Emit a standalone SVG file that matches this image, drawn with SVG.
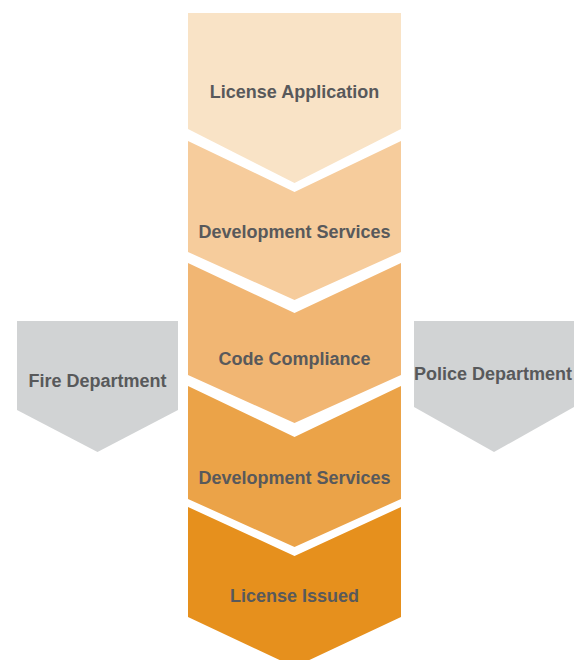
<svg xmlns="http://www.w3.org/2000/svg" width="581" height="660" viewBox="0 0 581 660">
<style>
  .lbl { font-family: "Liberation Sans", Arial, sans-serif; font-weight: bold; font-size: 18px; fill: #58595b; text-anchor: middle; }
  .s1 { fill: #f9e3c6; }
  .s2 { fill: #f6cc9c; }
  .s3 { fill: #f1b673; }
  .s4 { fill: #eba348; }
  .s5 { fill: #e6901d; }
  .gray { fill: #d1d3d4; }
</style>
<rect width="581" height="660" fill="#ffffff"/>
<g id="license-application">
  <polygon class="s1" points="188,13 401,13 401,129 294.5,183 188,129"/>
  <text class="lbl" x="294.5" y="98">License Application</text>
</g>
<g id="development-services-1">
  <polygon class="s2" points="188,141 294.5,192 401,141 401,252 294.5,300 188,252"/>
  <text class="lbl" x="294.5" y="238">Development Services</text>
</g>
<g id="code-compliance">
  <polygon class="s3" points="188,263 294.5,313 401,263 401,375 294.5,423 188,375"/>
  <text class="lbl" x="294.5" y="365">Code Compliance</text>
</g>
<g id="development-services-2">
  <polygon class="s4" points="188,386 294.5,437 401,386 401,499 294.5,547 188,499"/>
  <text class="lbl" x="294.5" y="484">Development Services</text>
</g>
<g id="license-issued">
  <polygon class="s5" points="188,507 294.5,556 401,507 401,617 294.5,667 188,617"/>
  <text class="lbl" x="294.5" y="602">License Issued</text>
</g>
<g id="fire-department">
  <polygon class="gray" points="17,321 178,321 178,410 97.5,452 17,410"/>
  <text class="lbl" x="97.5" y="387">Fire Department</text>
</g>
<g id="police-department">
  <polygon class="gray" points="414,321 574,321 574,407 494,452 414,407"/>
  <text class="lbl" x="493" y="380">Police Department</text>
</g>
</svg>
